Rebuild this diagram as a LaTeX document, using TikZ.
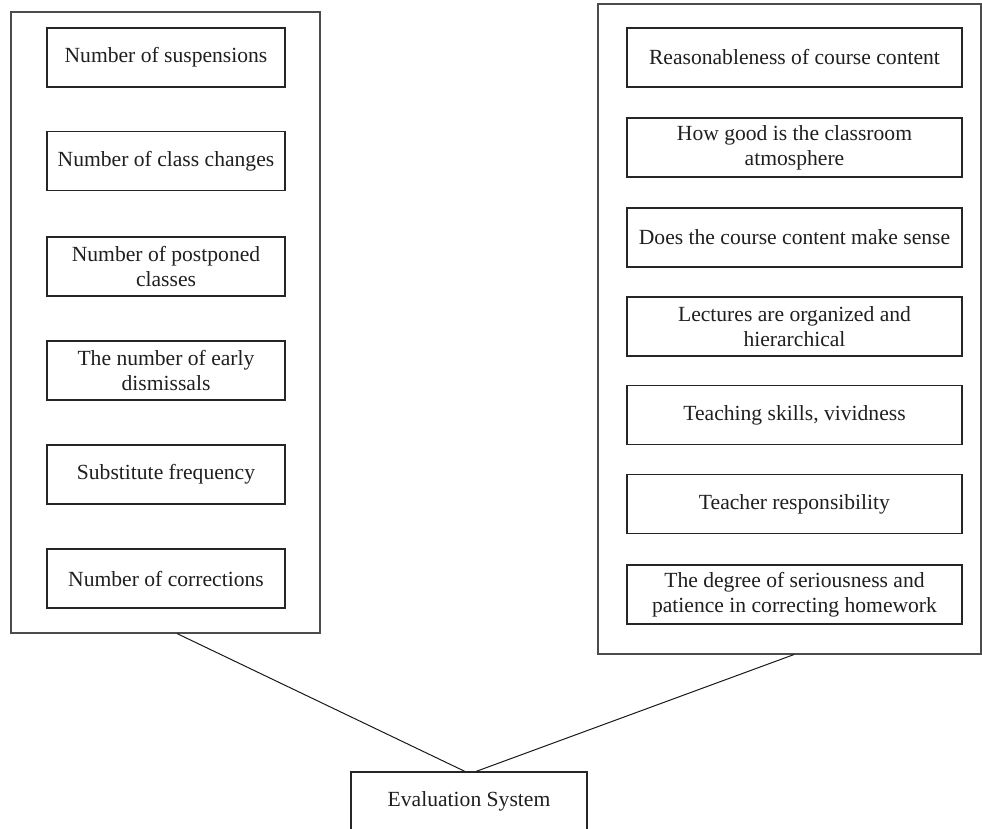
\documentclass[tikz,border=0pt]{standalone}
\usepackage{fontspec}
\setmainfont{Liberation Serif}
\begin{document}
\begin{tikzpicture}[x=0.5pt,y=-0.5pt,
  outerbox/.style={draw=black!70, line width=0.55pt, minimum width=#1, inner sep=0pt},
  item/.style={draw=black!85, line width=0.55pt, align=center, inner sep=0pt,
    font=\fontsize{10.8}{12.5}\selectfont, text=black!88},
  litem/.style={item, minimum width=119pt, minimum height=29.5pt},
  ritem/.style={item, minimum width=167.5pt, minimum height=29.5pt},
  link/.style={draw=black!90, line width=0.5pt}]
\useasboundingbox (0,0) rectangle (982,829);
% outer frames
\node[outerbox=154.5pt, minimum height=310.5pt] (L) at (165.5,322.5) {};
\node[outerbox=191.5pt, minimum height=325pt] (R) at (789.5,329) {};
% left items
\node[litem] (l1) at (166,57.5) {Number of suspensions};
\node[litem] (l2) at (166,161) {Number of class changes};
\node[litem] (l3) at (166,266.5) {Number of postponed\\classes};
\node[litem] (l4) at (166,370.5) {The number of early\\dismissals};
\node[litem] (l5) at (166,474.5) {Substitute frequency};
\node[litem] (l6) at (166,578.5) {Number of corrections};
% right items
\node[ritem] (r1) at (794.5,57.5) {Reasonableness of course content};
\node[ritem] (r2) at (794.5,147.5) {How good is the classroom\\atmosphere};
\node[ritem] (r3) at (794.5,237.5) {Does the course content make sense};
\node[ritem] (r4) at (794.5,326.5) {Lectures are organized and\\hierarchical};
\node[ritem] (r5) at (794.5,415) {Teaching skills, vividness};
\node[ritem] (r6) at (794.5,504) {Teacher responsibility};
\node[ritem] (r7) at (794.5,594.5) {The degree of seriousness and\\patience in correcting homework};
% evaluation
\node[item, minimum width=118pt, minimum height=29pt] (E) at (469,801) {Evaluation System};
% connectors
\draw[link] ([xshift=5.75pt]L.south) -- ([xshift=-2pt]E.north);
\draw[link] ([xshift=2.25pt]R.south) -- ([xshift=3.5pt]E.north);
\end{tikzpicture}
\end{document}
